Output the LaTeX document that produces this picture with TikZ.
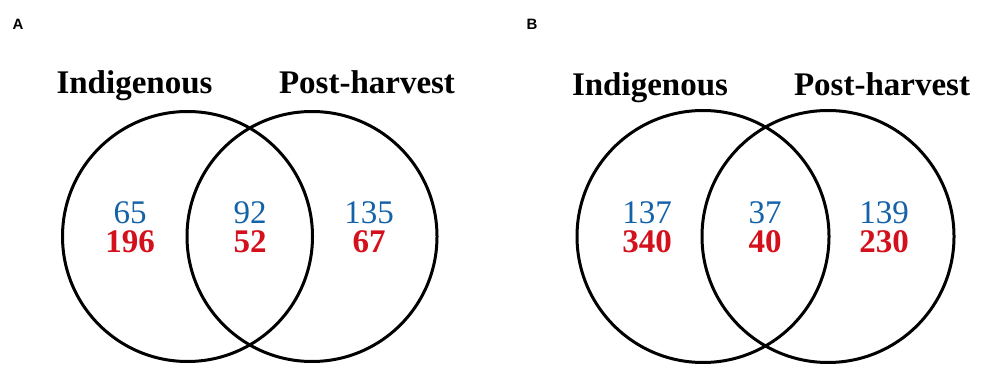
\documentclass[tikz,border=0pt]{standalone}
\usepackage{fontspec}
\setmainfont{Liberation Serif}
\newfontfamily\panelfont{Liberation Sans}
\definecolor{numblue}{HTML}{1462A8}
\definecolor{numred}{HTML}{D4101C}
\begin{document}
\begin{tikzpicture}[x=1pt,y=-1pt,
  setcircle/.style={draw=black,line width=3pt},
  setlabel/.style={anchor=base,inner sep=0pt,font=\fontsize{33}{33}\selectfont\bfseries},
  bluenum/.style={anchor=base,inner sep=0pt,text=numblue,font=\fontsize{33}{33}\selectfont},
  rednum/.style={anchor=base,inner sep=0pt,text=numred,font=\fontsize{33}{33}\selectfont\bfseries},
  panel/.style={inner sep=0pt,font=\fontsize{15}{15}\selectfont\panelfont\bfseries}]
\useasboundingbox[fill=white] (0,0) rectangle (992,371);
% Panel A
\node[panel] (pa) at (18,24) {A};
\node[setlabel] (la) at (134.5,94) {Indigenous};
\node[setlabel] (ra) at (367,94) {Post-harvest};
\draw[setcircle] (187.5,236.5) circle[radius=125pt];
\draw[setcircle] (312,236.5) circle[radius=125pt];
\node[bluenum] (a1) at (130,223) {65};
\node[rednum] (a2) at (130,252) {196};
\node[bluenum] (a3) at (250,223) {92};
\node[rednum] (a4) at (250,252) {52};
\node[bluenum] (a5) at (369,223) {135};
\node[rednum] (a6) at (369,252) {67};
% Panel B
\node[panel] (pb) at (532,24) {B};
\node[setlabel] (lb) at (650,96) {Indigenous};
\node[setlabel] (rb) at (882,96) {Post-harvest};
\draw[setcircle] (703,236.5) circle[radius=126pt];
\draw[setcircle] (828,236.5) circle[radius=126pt];
\node[bluenum] (b1) at (647,223) {137};
\node[rednum] (b2) at (647,252) {340};
\node[bluenum] (b3) at (765,223) {37};
\node[rednum] (b4) at (765,252) {40};
\node[bluenum] (b5) at (884,223) {139};
\node[rednum] (b6) at (884,252) {230};
\end{tikzpicture}
\end{document}
